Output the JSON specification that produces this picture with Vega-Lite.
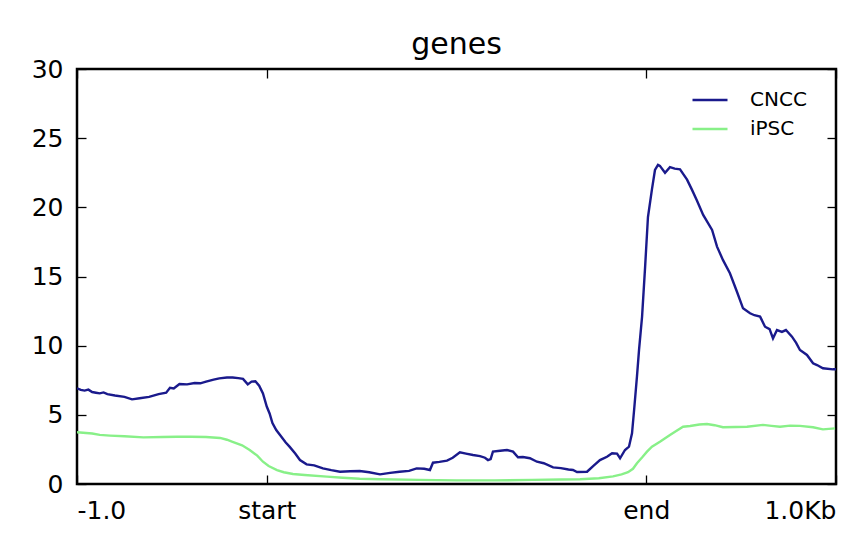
{
  "$schema": "https://vega.github.io/schema/vega-lite/v6.json",
  "width": 759,
  "height": 415,
  "autosize": {"type": "none"},
  "padding": {"left": 77, "top": 69, "right": 30, "bottom": 67},
  "title": {
    "text": "genes",
    "fontSize": 30,
    "fontWeight": "normal",
    "font": "DejaVu Sans",
    "color": "black",
    "baseline": "alphabetic",
    "offset": -27
  },
  "config": {
    "view": {"stroke": "black", "strokeWidth": 2.5},
    "axis": {
      "domain": false,
      "grid": false,
      "tickColor": "black",
      "tickWidth": 1.3,
      "tickSize": -9,
      "labelFont": "DejaVu Sans",
      "labelFontSize": 25,
      "labelColor": "black",
      "title": null
    },
    "legend": {
      "labelFont": "DejaVu Sans",
      "labelFontSize": 20,
      "labelColor": "black"
    }
  },
  "datasets": {
    "profile": [
      {"bin": 0, "signal": 6.92, "sample": "CNCC"},
      {"bin": 2, "signal": 6.8, "sample": "CNCC"},
      {"bin": 4, "signal": 6.75, "sample": "CNCC"},
      {"bin": 6, "signal": 6.82, "sample": "CNCC"},
      {"bin": 8, "signal": 6.65, "sample": "CNCC"},
      {"bin": 10, "signal": 6.6, "sample": "CNCC"},
      {"bin": 12, "signal": 6.55, "sample": "CNCC"},
      {"bin": 14, "signal": 6.62, "sample": "CNCC"},
      {"bin": 16, "signal": 6.5, "sample": "CNCC"},
      {"bin": 20, "signal": 6.4, "sample": "CNCC"},
      {"bin": 25, "signal": 6.3, "sample": "CNCC"},
      {"bin": 29, "signal": 6.12, "sample": "CNCC"},
      {"bin": 33, "signal": 6.2, "sample": "CNCC"},
      {"bin": 38, "signal": 6.3, "sample": "CNCC"},
      {"bin": 43, "signal": 6.5, "sample": "CNCC"},
      {"bin": 47, "signal": 6.6, "sample": "CNCC"},
      {"bin": 49, "signal": 6.95, "sample": "CNCC"},
      {"bin": 51, "signal": 6.9, "sample": "CNCC"},
      {"bin": 54, "signal": 7.23, "sample": "CNCC"},
      {"bin": 58, "signal": 7.2, "sample": "CNCC"},
      {"bin": 62, "signal": 7.3, "sample": "CNCC"},
      {"bin": 65, "signal": 7.28, "sample": "CNCC"},
      {"bin": 68, "signal": 7.4, "sample": "CNCC"},
      {"bin": 72, "signal": 7.55, "sample": "CNCC"},
      {"bin": 75, "signal": 7.64, "sample": "CNCC"},
      {"bin": 79, "signal": 7.7, "sample": "CNCC"},
      {"bin": 82, "signal": 7.7, "sample": "CNCC"},
      {"bin": 85, "signal": 7.65, "sample": "CNCC"},
      {"bin": 87.5, "signal": 7.6, "sample": "CNCC"},
      {"bin": 90, "signal": 7.2, "sample": "CNCC"},
      {"bin": 92, "signal": 7.4, "sample": "CNCC"},
      {"bin": 94, "signal": 7.43, "sample": "CNCC"},
      {"bin": 96, "signal": 7.1, "sample": "CNCC"},
      {"bin": 98, "signal": 6.55, "sample": "CNCC"},
      {"bin": 100, "signal": 5.6, "sample": "CNCC"},
      {"bin": 101.5, "signal": 5.1, "sample": "CNCC"},
      {"bin": 103, "signal": 4.4, "sample": "CNCC"},
      {"bin": 105, "signal": 3.9, "sample": "CNCC"},
      {"bin": 107, "signal": 3.54, "sample": "CNCC"},
      {"bin": 110, "signal": 3.0, "sample": "CNCC"},
      {"bin": 112, "signal": 2.7, "sample": "CNCC"},
      {"bin": 115, "signal": 2.2, "sample": "CNCC"},
      {"bin": 117.5, "signal": 1.73, "sample": "CNCC"},
      {"bin": 121, "signal": 1.42, "sample": "CNCC"},
      {"bin": 125, "signal": 1.35, "sample": "CNCC"},
      {"bin": 129.6, "signal": 1.13, "sample": "CNCC"},
      {"bin": 134, "signal": 1.0, "sample": "CNCC"},
      {"bin": 138.6, "signal": 0.89, "sample": "CNCC"},
      {"bin": 144, "signal": 0.92, "sample": "CNCC"},
      {"bin": 149, "signal": 0.94, "sample": "CNCC"},
      {"bin": 154, "signal": 0.85, "sample": "CNCC"},
      {"bin": 159.7, "signal": 0.7, "sample": "CNCC"},
      {"bin": 165, "signal": 0.8, "sample": "CNCC"},
      {"bin": 170, "signal": 0.89, "sample": "CNCC"},
      {"bin": 175, "signal": 0.95, "sample": "CNCC"},
      {"bin": 179, "signal": 1.13, "sample": "CNCC"},
      {"bin": 183, "signal": 1.1, "sample": "CNCC"},
      {"bin": 186, "signal": 1.01, "sample": "CNCC"},
      {"bin": 187.6, "signal": 1.54, "sample": "CNCC"},
      {"bin": 191, "signal": 1.6, "sample": "CNCC"},
      {"bin": 195, "signal": 1.69, "sample": "CNCC"},
      {"bin": 198, "signal": 1.9, "sample": "CNCC"},
      {"bin": 201.8, "signal": 2.29, "sample": "CNCC"},
      {"bin": 205, "signal": 2.2, "sample": "CNCC"},
      {"bin": 208.7, "signal": 2.1, "sample": "CNCC"},
      {"bin": 212.4, "signal": 2.02, "sample": "CNCC"},
      {"bin": 215, "signal": 1.9, "sample": "CNCC"},
      {"bin": 216.6, "signal": 1.73, "sample": "CNCC"},
      {"bin": 218, "signal": 1.8, "sample": "CNCC"},
      {"bin": 219.2, "signal": 2.34, "sample": "CNCC"},
      {"bin": 223, "signal": 2.4, "sample": "CNCC"},
      {"bin": 226.6, "signal": 2.46, "sample": "CNCC"},
      {"bin": 229.8, "signal": 2.34, "sample": "CNCC"},
      {"bin": 232.4, "signal": 1.93, "sample": "CNCC"},
      {"bin": 235, "signal": 1.95, "sample": "CNCC"},
      {"bin": 238.7, "signal": 1.86, "sample": "CNCC"},
      {"bin": 242.4, "signal": 1.61, "sample": "CNCC"},
      {"bin": 246, "signal": 1.5, "sample": "CNCC"},
      {"bin": 250.9, "signal": 1.2, "sample": "CNCC"},
      {"bin": 255, "signal": 1.15, "sample": "CNCC"},
      {"bin": 259, "signal": 1.05, "sample": "CNCC"},
      {"bin": 261.4, "signal": 1.01, "sample": "CNCC"},
      {"bin": 263.5, "signal": 0.87, "sample": "CNCC"},
      {"bin": 268.8, "signal": 0.89, "sample": "CNCC"},
      {"bin": 272, "signal": 1.3, "sample": "CNCC"},
      {"bin": 275.6, "signal": 1.73, "sample": "CNCC"},
      {"bin": 279.3, "signal": 1.97, "sample": "CNCC"},
      {"bin": 282, "signal": 2.22, "sample": "CNCC"},
      {"bin": 284.6, "signal": 2.2, "sample": "CNCC"},
      {"bin": 286.2, "signal": 1.86, "sample": "CNCC"},
      {"bin": 288.8, "signal": 2.46, "sample": "CNCC"},
      {"bin": 290.9, "signal": 2.7, "sample": "CNCC"},
      {"bin": 292.5, "signal": 3.66, "sample": "CNCC"},
      {"bin": 293.6, "signal": 5.35, "sample": "CNCC"},
      {"bin": 295.1, "signal": 7.76, "sample": "CNCC"},
      {"bin": 296.2, "signal": 9.69, "sample": "CNCC"},
      {"bin": 297.8, "signal": 12.1, "sample": "CNCC"},
      {"bin": 299.4, "signal": 15.7, "sample": "CNCC"},
      {"bin": 300.9, "signal": 19.3, "sample": "CNCC"},
      {"bin": 303, "signal": 21.3, "sample": "CNCC"},
      {"bin": 304.6, "signal": 22.7, "sample": "CNCC"},
      {"bin": 306.2, "signal": 23.07, "sample": "CNCC"},
      {"bin": 307.2, "signal": 23.0, "sample": "CNCC"},
      {"bin": 309.9, "signal": 22.5, "sample": "CNCC"},
      {"bin": 312.5, "signal": 22.9, "sample": "CNCC"},
      {"bin": 315, "signal": 22.8, "sample": "CNCC"},
      {"bin": 317.8, "signal": 22.75, "sample": "CNCC"},
      {"bin": 321.5, "signal": 22.0, "sample": "CNCC"},
      {"bin": 324, "signal": 21.3, "sample": "CNCC"},
      {"bin": 326.7, "signal": 20.5, "sample": "CNCC"},
      {"bin": 330, "signal": 19.45, "sample": "CNCC"},
      {"bin": 334.7, "signal": 18.37, "sample": "CNCC"},
      {"bin": 337.3, "signal": 17.16, "sample": "CNCC"},
      {"bin": 340.4, "signal": 16.2, "sample": "CNCC"},
      {"bin": 344.1, "signal": 15.23, "sample": "CNCC"},
      {"bin": 347.8, "signal": 13.9, "sample": "CNCC"},
      {"bin": 351, "signal": 12.7, "sample": "CNCC"},
      {"bin": 354.7, "signal": 12.34, "sample": "CNCC"},
      {"bin": 357, "signal": 12.2, "sample": "CNCC"},
      {"bin": 360, "signal": 12.1, "sample": "CNCC"},
      {"bin": 362.6, "signal": 11.37, "sample": "CNCC"},
      {"bin": 365, "signal": 11.2, "sample": "CNCC"},
      {"bin": 366.8, "signal": 10.53, "sample": "CNCC"},
      {"bin": 368.9, "signal": 11.13, "sample": "CNCC"},
      {"bin": 371.5, "signal": 11.0, "sample": "CNCC"},
      {"bin": 373.6, "signal": 11.13, "sample": "CNCC"},
      {"bin": 376.8, "signal": 10.65, "sample": "CNCC"},
      {"bin": 379, "signal": 10.2, "sample": "CNCC"},
      {"bin": 381, "signal": 9.69, "sample": "CNCC"},
      {"bin": 384.7, "signal": 9.33, "sample": "CNCC"},
      {"bin": 387.9, "signal": 8.73, "sample": "CNCC"},
      {"bin": 390, "signal": 8.6, "sample": "CNCC"},
      {"bin": 393.1, "signal": 8.37, "sample": "CNCC"},
      {"bin": 398.4, "signal": 8.29, "sample": "CNCC"},
      {"bin": 400, "signal": 8.3, "sample": "CNCC"},
      {"bin": 0, "signal": 3.74, "sample": "iPSC"},
      {"bin": 8, "signal": 3.65, "sample": "iPSC"},
      {"bin": 12, "signal": 3.55, "sample": "iPSC"},
      {"bin": 17.4, "signal": 3.5, "sample": "iPSC"},
      {"bin": 25, "signal": 3.45, "sample": "iPSC"},
      {"bin": 35, "signal": 3.37, "sample": "iPSC"},
      {"bin": 45, "signal": 3.4, "sample": "iPSC"},
      {"bin": 52.7, "signal": 3.42, "sample": "iPSC"},
      {"bin": 60, "signal": 3.42, "sample": "iPSC"},
      {"bin": 68, "signal": 3.4, "sample": "iPSC"},
      {"bin": 75.4, "signal": 3.33, "sample": "iPSC"},
      {"bin": 79, "signal": 3.2, "sample": "iPSC"},
      {"bin": 82, "signal": 3.05, "sample": "iPSC"},
      {"bin": 87, "signal": 2.8, "sample": "iPSC"},
      {"bin": 91, "signal": 2.46, "sample": "iPSC"},
      {"bin": 95, "signal": 2.05, "sample": "iPSC"},
      {"bin": 98, "signal": 1.61, "sample": "iPSC"},
      {"bin": 101, "signal": 1.3, "sample": "iPSC"},
      {"bin": 105.4, "signal": 1.01, "sample": "iPSC"},
      {"bin": 109, "signal": 0.85, "sample": "iPSC"},
      {"bin": 113.8, "signal": 0.72, "sample": "iPSC"},
      {"bin": 120, "signal": 0.65, "sample": "iPSC"},
      {"bin": 131.7, "signal": 0.53, "sample": "iPSC"},
      {"bin": 140, "signal": 0.45, "sample": "iPSC"},
      {"bin": 149, "signal": 0.38, "sample": "iPSC"},
      {"bin": 160, "signal": 0.34, "sample": "iPSC"},
      {"bin": 180, "signal": 0.3, "sample": "iPSC"},
      {"bin": 200, "signal": 0.26, "sample": "iPSC"},
      {"bin": 220, "signal": 0.26, "sample": "iPSC"},
      {"bin": 240, "signal": 0.3, "sample": "iPSC"},
      {"bin": 255, "signal": 0.32, "sample": "iPSC"},
      {"bin": 265.1, "signal": 0.34, "sample": "iPSC"},
      {"bin": 275, "signal": 0.42, "sample": "iPSC"},
      {"bin": 282.5, "signal": 0.55, "sample": "iPSC"},
      {"bin": 287, "signal": 0.7, "sample": "iPSC"},
      {"bin": 290.4, "signal": 0.85, "sample": "iPSC"},
      {"bin": 293, "signal": 1.1, "sample": "iPSC"},
      {"bin": 295.1, "signal": 1.5, "sample": "iPSC"},
      {"bin": 298, "signal": 1.95, "sample": "iPSC"},
      {"bin": 300.4, "signal": 2.34, "sample": "iPSC"},
      {"bin": 303, "signal": 2.7, "sample": "iPSC"},
      {"bin": 307.2, "signal": 3.06, "sample": "iPSC"},
      {"bin": 312.5, "signal": 3.54, "sample": "iPSC"},
      {"bin": 316, "signal": 3.85, "sample": "iPSC"},
      {"bin": 319.4, "signal": 4.14, "sample": "iPSC"},
      {"bin": 323.1, "signal": 4.19, "sample": "iPSC"},
      {"bin": 328, "signal": 4.3, "sample": "iPSC"},
      {"bin": 332, "signal": 4.34, "sample": "iPSC"},
      {"bin": 336, "signal": 4.25, "sample": "iPSC"},
      {"bin": 340.4, "signal": 4.1, "sample": "iPSC"},
      {"bin": 347, "signal": 4.12, "sample": "iPSC"},
      {"bin": 353.1, "signal": 4.14, "sample": "iPSC"},
      {"bin": 361.5, "signal": 4.27, "sample": "iPSC"},
      {"bin": 366, "signal": 4.2, "sample": "iPSC"},
      {"bin": 370.5, "signal": 4.14, "sample": "iPSC"},
      {"bin": 375.8, "signal": 4.22, "sample": "iPSC"},
      {"bin": 381, "signal": 4.2, "sample": "iPSC"},
      {"bin": 387.9, "signal": 4.1, "sample": "iPSC"},
      {"bin": 393.1, "signal": 3.95, "sample": "iPSC"},
      {"bin": 399.5, "signal": 4.02, "sample": "iPSC"}
    ]
  },
  "data": {"name": "profile"},
  "layer": [
    {
      "mark": {"type": "line", "strokeWidth": 2.4, "clip": true},
      "encoding": {
        "x": {
          "field": "bin",
          "type": "quantitative",
          "scale": {"domain": [0, 400], "nice": false, "zero": false},
          "axis": {
            "orient": "bottom",
            "values": [0, 100, 300, 400],
            "labelExpr": "datum.value == 0 ? '-1.0' : datum.value == 100 ? 'start' : datum.value == 300 ? 'end' : '1.0Kb'",
            "labelFlush": true,
            "labelPadding": 23
          }
        },
        "y": {
          "field": "signal",
          "type": "quantitative",
          "scale": {"domain": [0, 30], "nice": false},
          "axis": {
            "orient": "left",
            "values": [0, 5, 10, 15, 20, 25, 30],
            "labelFlush": false,
            "labelPadding": 23
          }
        },
        "color": {
          "field": "sample",
          "type": "nominal",
          "scale": {"domain": ["CNCC", "iPSC"], "range": ["#1a1a8c", "#88f088"]},
          "legend": {
            "orient": "none",
            "legendX": 614,
            "legendY": 12,
            "title": null,
            "symbolType": "stroke",
            "symbolSize": 1225,
            "symbolStrokeWidth": 2.4,
            "labelOffset": 21,
            "rowPadding": 0,
            "padding": 0
          }
        }
      }
    },
    {
      "mark": {"type": "line", "strokeWidth": 2.2, "strokeOpacity": 0},
      "encoding": {
        "x": {
          "field": "bin",
          "type": "quantitative",
          "axis": {"orient": "top", "values": [0, 100, 300, 400], "labels": false, "minExtent": 0, "maxExtent": 0}
        },
        "y": {
          "field": "signal",
          "type": "quantitative",
          "axis": {"orient": "right", "values": [0, 5, 10, 15, 20, 25, 30], "labels": false, "minExtent": 0, "maxExtent": 0}
        },
        "detail": {"field": "sample"}
      }
    }
  ],
  "resolve": {"axis": {"x": "independent", "y": "independent"}}
}
